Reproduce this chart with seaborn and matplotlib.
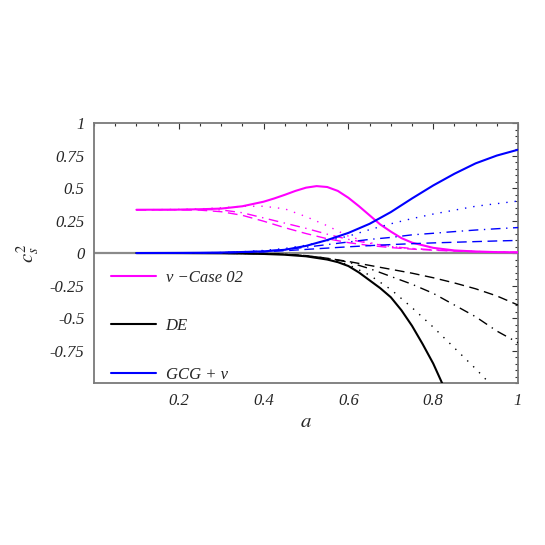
import numpy as np
import pandas as pd
import seaborn as sns
import matplotlib.pyplot as plt
from matplotlib.lines import Line2D

# scale factor grid (shared by most curves)
a_grid = [0.10, 0.15, 0.20, 0.25, 0.30, 0.35, 0.40, 0.45, 0.50, 0.55,
          0.60, 0.65, 0.70, 0.75, 0.80, 0.85, 0.90, 0.95, 1.00]

# nu - Case 02 (magenta), solid curve read on a finer grid around the bump
a_nu_solid = [0.10, 0.20, 0.25, 0.30, 0.35, 0.40, 0.425, 0.45, 0.475, 0.50,
              0.525, 0.55, 0.575, 0.60, 0.625, 0.65, 0.675, 0.70, 0.725,
              0.75, 0.80, 0.85, 0.90, 0.95, 1.00]
nu_solid = [0.333, 0.334, 0.337, 0.342, 0.360, 0.395, 0.420, 0.448, 0.478,
            0.503, 0.515, 0.508, 0.478, 0.425, 0.360, 0.290, 0.220, 0.165,
            0.115, 0.080, 0.040, 0.020, 0.012, 0.007, 0.005]
nu_dotted = [0.333, 0.334, 0.336, 0.340, 0.348, 0.360, 0.360, 0.340, 0.280,
             0.210, 0.130, 0.080, 0.050, 0.035, 0.025, 0.018, 0.012, 0.008, 0.005]
nu_dashdot = [0.333, 0.333, 0.334, 0.335, 0.332, 0.310, 0.270, 0.230, 0.190,
              0.145, 0.105, 0.075, 0.050, 0.035, 0.025, 0.017, 0.011, 0.008, 0.005]
nu_dashed = [0.333, 0.333, 0.333, 0.330, 0.318, 0.290, 0.245, 0.195, 0.150,
             0.110, 0.080, 0.058, 0.042, 0.030, 0.022, 0.015, 0.010, 0.007, 0.005]

# DE (black), solid curve read on a finer grid where it bends down
a_de_solid = [0.10, 0.20, 0.30, 0.35, 0.40, 0.45, 0.50, 0.55, 0.575, 0.60,
              0.625, 0.65, 0.675, 0.70, 0.725, 0.75, 0.775, 0.80, 0.825, 0.85]
de_solid = [0.0, -0.0005, -0.002, -0.004, -0.007, -0.013, -0.025, -0.05, -0.07,
            -0.10, -0.15, -0.21, -0.27, -0.34, -0.44, -0.56, -0.70, -0.85, -1.03, -1.22]
de_dotted = [0.0, 0.0, -0.0005, -0.001, -0.002, -0.003, -0.005, -0.010, -0.020,
             -0.045, -0.09, -0.17, -0.28, -0.42, -0.57, -0.73, -0.89, -1.06, -1.25]
de_dashdot = [0.0, 0.0, -0.0005, -0.001, -0.002, -0.003, -0.004, -0.010, -0.020,
              -0.040, -0.07, -0.12, -0.18, -0.24, -0.31, -0.40, -0.49, -0.60, -0.69]
de_dashed = [0.0, 0.0, -0.0005, -0.001, -0.002, -0.003, -0.004, -0.010, -0.020,
             -0.040, -0.065, -0.095, -0.125, -0.155, -0.19, -0.23, -0.275, -0.33, -0.40]

# GCG + nu (blue)
gcg_solid = [0.0, 0.0005, 0.001, 0.002, 0.004, 0.008, 0.013, 0.025, 0.055, 0.10,
             0.155, 0.225, 0.315, 0.42, 0.52, 0.61, 0.69, 0.75, 0.795]
gcg_dotted = [0.0, 0.0005, 0.001, 0.002, 0.004, 0.010, 0.020, 0.035, 0.060, 0.095,
              0.13, 0.18, 0.225, 0.265, 0.30, 0.33, 0.36, 0.38, 0.40]
gcg_dashdot = [0.0, 0.0005, 0.001, 0.002, 0.003, 0.008, 0.015, 0.027, 0.045, 0.065,
               0.085, 0.105, 0.12, 0.14, 0.152, 0.165, 0.177, 0.187, 0.196]
gcg_dashed = [0.0, 0.0005, 0.001, 0.0015, 0.002, 0.005, 0.010, 0.018, 0.028, 0.038,
              0.048, 0.057, 0.065, 0.072, 0.078, 0.083, 0.088, 0.093, 0.097]

models = ["nu", "DE", "GCG"]
legend_labels = ["ν −Case 02", "DE", "GCG + ν"]
model_colors = {"nu": "#ff00ff", "DE": "#000000", "GCG": "#0000ff"}

x_ticks = [0.2, 0.4, 0.6, 0.8, 1.0]
x_ticklabels = ["0.2", "0.4", "0.6", "0.8", "1"]
y_ticks = [-0.75, -0.5, -0.25, 0, 0.25, 0.5, 0.75, 1]
y_ticklabels = ["-0.75", "-0.5", "-0.25", "0", "0.25", "0.5", "0.75", "1"]

# build long table
rows = []
series = {
    ("nu", "dotted"): (a_grid, nu_dotted),
    ("nu", "dashdot"): (a_grid, nu_dashdot),
    ("nu", "dashed"): (a_grid, nu_dashed),
    ("DE", "dotted"): (a_grid, de_dotted),
    ("DE", "dashdot"): (a_grid, de_dashdot),
    ("DE", "dashed"): (a_grid, de_dashed),
    ("GCG", "dotted"): (a_grid, gcg_dotted),
    ("GCG", "dashdot"): (a_grid, gcg_dashdot),
    ("GCG", "dashed"): (a_grid, gcg_dashed),
    ("nu", "solid"): (a_nu_solid, nu_solid),
    ("DE", "solid"): (a_de_solid, de_solid),
    ("GCG", "solid"): (a_grid, gcg_solid),
}
for (model, variant), (xs, ys) in series.items():
    for x, y in zip(xs, ys):
        rows.append({"a": x, "cs2": y, "model": model, "variant": variant,
                     "curve": model + "_" + variant})
df = pd.DataFrame(rows)

sns.set_style("white")
plt.rcParams["mathtext.fontset"] = "stix"
plt.rcParams["font.family"] = ["Liberation Serif", "DejaVu Serif"]

fig = plt.figure(figsize=(5.45, 5.45), dpi=100)
ax = fig.add_axes([0.1725, 0.2972, 0.778, 0.477])

ax.axhline(0, color="#8a8a8a", lw=1.6, zorder=1)

dash_map = {"solid": "", "dashed": (7, 4), "dashdot": (7, 4, 1, 4), "dotted": (1, 5)}
size_map = {"solid": 1.5, "dashed": 1.0, "dashdot": 1.0, "dotted": 1.0}
sns.lineplot(data=df, x="a", y="cs2", hue="model", style="variant", size="variant",
             units="curve", estimator=None, palette=model_colors,
             dashes=dash_map, sizes=size_map, legend=False, ax=ax, zorder=3)

ax.set_xlim(0, 1)
ax.set_ylim(-1, 1)
ax.set_xticks(x_ticks, x_ticklabels)
ax.set_yticks(y_ticks, y_ticklabels)
ax.set_xticks(np.arange(0, 1.0001, 0.05), minor=True)
ax.set_yticks(np.arange(-1, 1.0001, 0.05), minor=True)
ax.tick_params(which="both", direction="in", top=True, right=True,
               color="#333333", width=0.8)
ax.tick_params(which="major", length=4.5, labelsize=12, pad=7)
ax.tick_params(which="minor", length=2.5)
for lab in ax.get_xticklabels() + ax.get_yticklabels():
    lab.set_style("italic")
for sp in ax.spines.values():
    sp.set_color("#7a7a7a")
    sp.set_linewidth(1.3)

ax.set_xlabel("$a$", fontsize=15, labelpad=3)
ax.set_ylabel("$c_s^2$", fontsize=15)
ax.yaxis.set_label_coords(-0.125, 0.5)

handles = [Line2D([], [], color=model_colors[m], lw=1.5) for m in models]
ax.legend(handles, legend_labels, loc="upper left", bbox_to_anchor=(0.0, 0.50),
          frameon=False, handlelength=2.7, handletextpad=0.6, labelspacing=1.95,
          borderaxespad=0.6, prop={"family": "Liberation Serif", "style": "italic", "size": 12})

fig.savefig("out.png", dpi=100, facecolor="white")
